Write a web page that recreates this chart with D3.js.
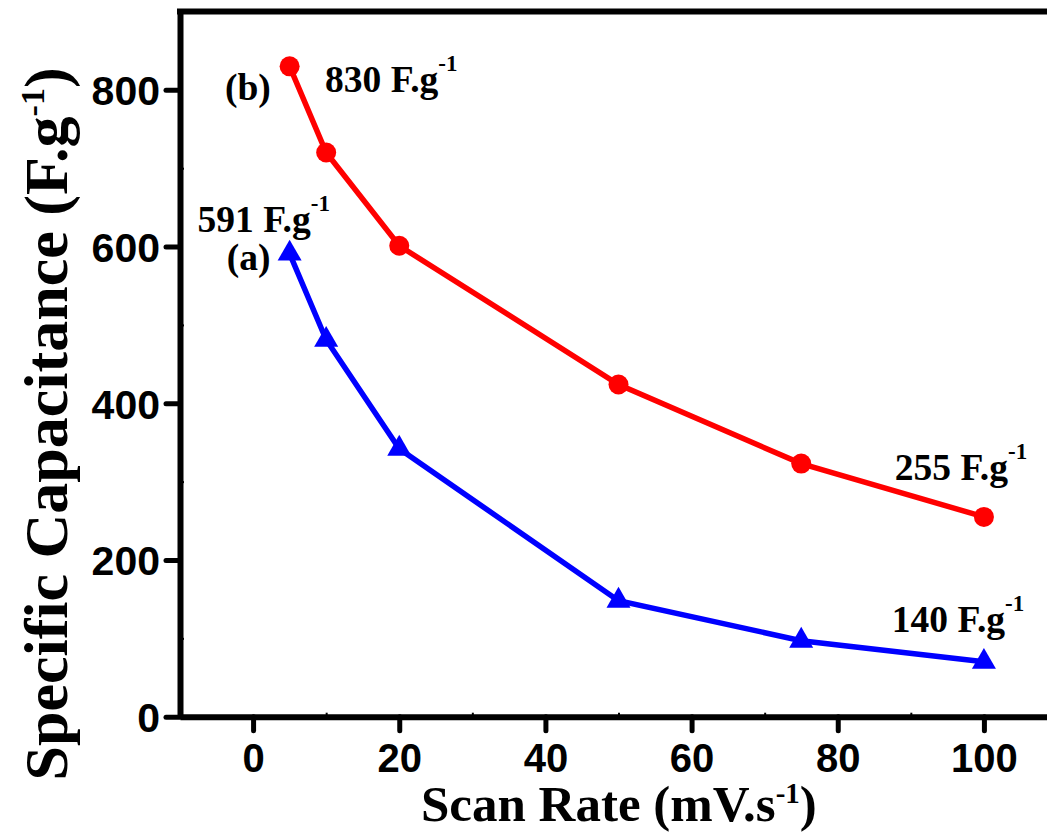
<!DOCTYPE html>
<html>
<head>
<meta charset="utf-8">
<script src="https://cdn.jsdelivr.net/npm/d3@7/dist/d3.min.js"></script>
<style>
  body { margin: 0; background: #fff; }
</style>
</head>
<body>
<div id="chart"></div>
<script>
// data
const scanRate = [5, 10, 20, 50, 75, 100];
const capB = [830, 720, 601, 424, 323, 255];   // red, circles
const capA = [591, 481, 342, 148, 97, 70];     // blue, triangles
const xTicks = [0, 20, 40, 60, 80, 100];
const xMinor = [-10, 10, 30, 50, 70, 90];
const yTicks = [0, 200, 400, 600, 800];
const yMinor = [100, 300, 500, 700];
const labelText = ["(b)", "830 F.g", "591 F.g", "(a)", "255 F.g", "140 F.g"];
const labelSup = ["", "-1", "-1", "", "-1", "-1"];

const W = 1047, H = 834;
const plotLeft = 180, plotTop = 11.5, plotBottom = 716.7;

const svg = d3.select("#chart").append("svg")
  .attr("width", W).attr("height", H);

const x = d3.scaleLinear().domain([-10, 110]).range([plotLeft, 1057]);
const y = d3.scaleLinear().domain([0, 900]).range([plotBottom, plotTop]);

const tickFont = "'Liberation Sans', Arial, sans-serif";
const serif = "'Liberation Serif', 'Times New Roman', serif";

// minor ticks (tiny, inward)
svg.append("g").attr("transform", "translate(0," + plotBottom + ")")
  .call(d3.axisBottom(x).tickValues(xMinor).tickSize(-4).tickFormat(""))
  .call(g => g.select(".domain").remove())
  .selectAll("line").attr("stroke-width", 2);
svg.append("g").attr("transform", "translate(" + plotLeft + ",0)")
  .call(d3.axisLeft(y).tickValues(yMinor).tickSize(-4).tickFormat(""))
  .call(g => g.select(".domain").remove())
  .selectAll("line").attr("stroke-width", 2);

// major axes
const gx = svg.append("g").attr("transform", "translate(0," + plotBottom + ")")
  .call(d3.axisBottom(x).tickValues(xTicks).tickSize(14).tickSizeOuter(0));
gx.select(".domain").attr("stroke-width", 6);
gx.selectAll(".tick line").attr("stroke-width", 5).attr("stroke-linecap", "round");
gx.selectAll(".tick text")
  .attr("y", 55).attr("dy", 0)
  .attr("font-family", tickFont).attr("font-weight", "bold")
  .attr("font-size", 40).attr("fill", "#000");

const gy = svg.append("g").attr("transform", "translate(" + plotLeft + ",0)")
  .call(d3.axisLeft(y).tickValues(yTicks).tickSize(14).tickSizeOuter(0));
gy.select(".domain").attr("stroke-width", 6);
gy.selectAll(".tick line").attr("stroke-width", 5).attr("stroke-linecap", "round");
gy.selectAll(".tick text")
  .attr("x", -20).attr("dy", "0.36em")
  .attr("font-family", tickFont).attr("font-weight", "bold")
  .attr("font-size", 41).attr("fill", "#000");

// top frame line
svg.append("line")
  .attr("x1", plotLeft - 3).attr("x2", W)
  .attr("y1", plotTop).attr("y2", plotTop)
  .attr("stroke", "#000").attr("stroke-width", 6);

// series
const line = d3.line().x(d => x(d[0])).y(d => y(d[1]));
const ptsB = scanRate.map((s, i) => [s, capB[i]]);
const ptsA = scanRate.map((s, i) => [s, capA[i]]);

svg.append("path").datum(ptsA)
  .attr("d", line).attr("fill", "none")
  .attr("stroke", "#0000ff").attr("stroke-width", 5.5);
svg.selectAll(".tri").data(ptsA).join("path")
  .attr("class", "tri")
  .attr("d", d3.symbol(d3.symbolTriangle, 250))
  .attr("transform", d => "translate(" + x(d[0]) + "," + y(d[1]) + ")")
  .attr("fill", "#0000ff");

svg.append("path").datum(ptsB)
  .attr("d", line).attr("fill", "none")
  .attr("stroke", "#ff0000").attr("stroke-width", 5.5);
svg.selectAll(".dot").data(ptsB).join("circle")
  .attr("class", "dot")
  .attr("cx", d => x(d[0])).attr("cy", d => y(d[1]))
  .attr("r", 10).attr("fill", "#ff0000");

// annotations (anchored in data coordinates)
const labelAt = [[-3.85, 787], [9.85, 797], [-7.6, 618], [-3.6, 570], [87.8, 302], [87.4, 108]];
labelText.forEach((t, i) => {
  const tx = svg.append("text")
    .attr("x", x(labelAt[i][0])).attr("y", y(labelAt[i][1]))
    .attr("font-family", serif).attr("font-weight", "bold")
    .attr("font-size", 37.5).attr("fill", "#000")
    .text(t);
  if (labelSup[i]) {
    tx.append("tspan").attr("font-size", 23).attr("dy", -21).text(labelSup[i]);
  }
});

// axis titles
const xt = svg.append("text")
  .attr("x", 421).attr("y", 821)
  .attr("font-family", serif).attr("font-weight", "bold")
  .attr("font-size", 51).attr("fill", "#000")
  .text("Scan Rate (mV.s");
xt.append("tspan").attr("font-size", 29).attr("dy", -18).text("-1");
xt.append("tspan").attr("dy", 18).text(")");

const yt = svg.append("text")
  .attr("transform", "translate(67,424) rotate(-90)")
  .attr("text-anchor", "middle")
  .attr("font-family", serif).attr("font-weight", "bold")
  .attr("font-size", 62).attr("fill", "#000")
  .text("Specific Capacitance (F.g");
yt.append("tspan").attr("font-size", 34).attr("dy", -23).text("-1");
yt.append("tspan").attr("dy", 23).text(")");
</script>
</body>
</html>
